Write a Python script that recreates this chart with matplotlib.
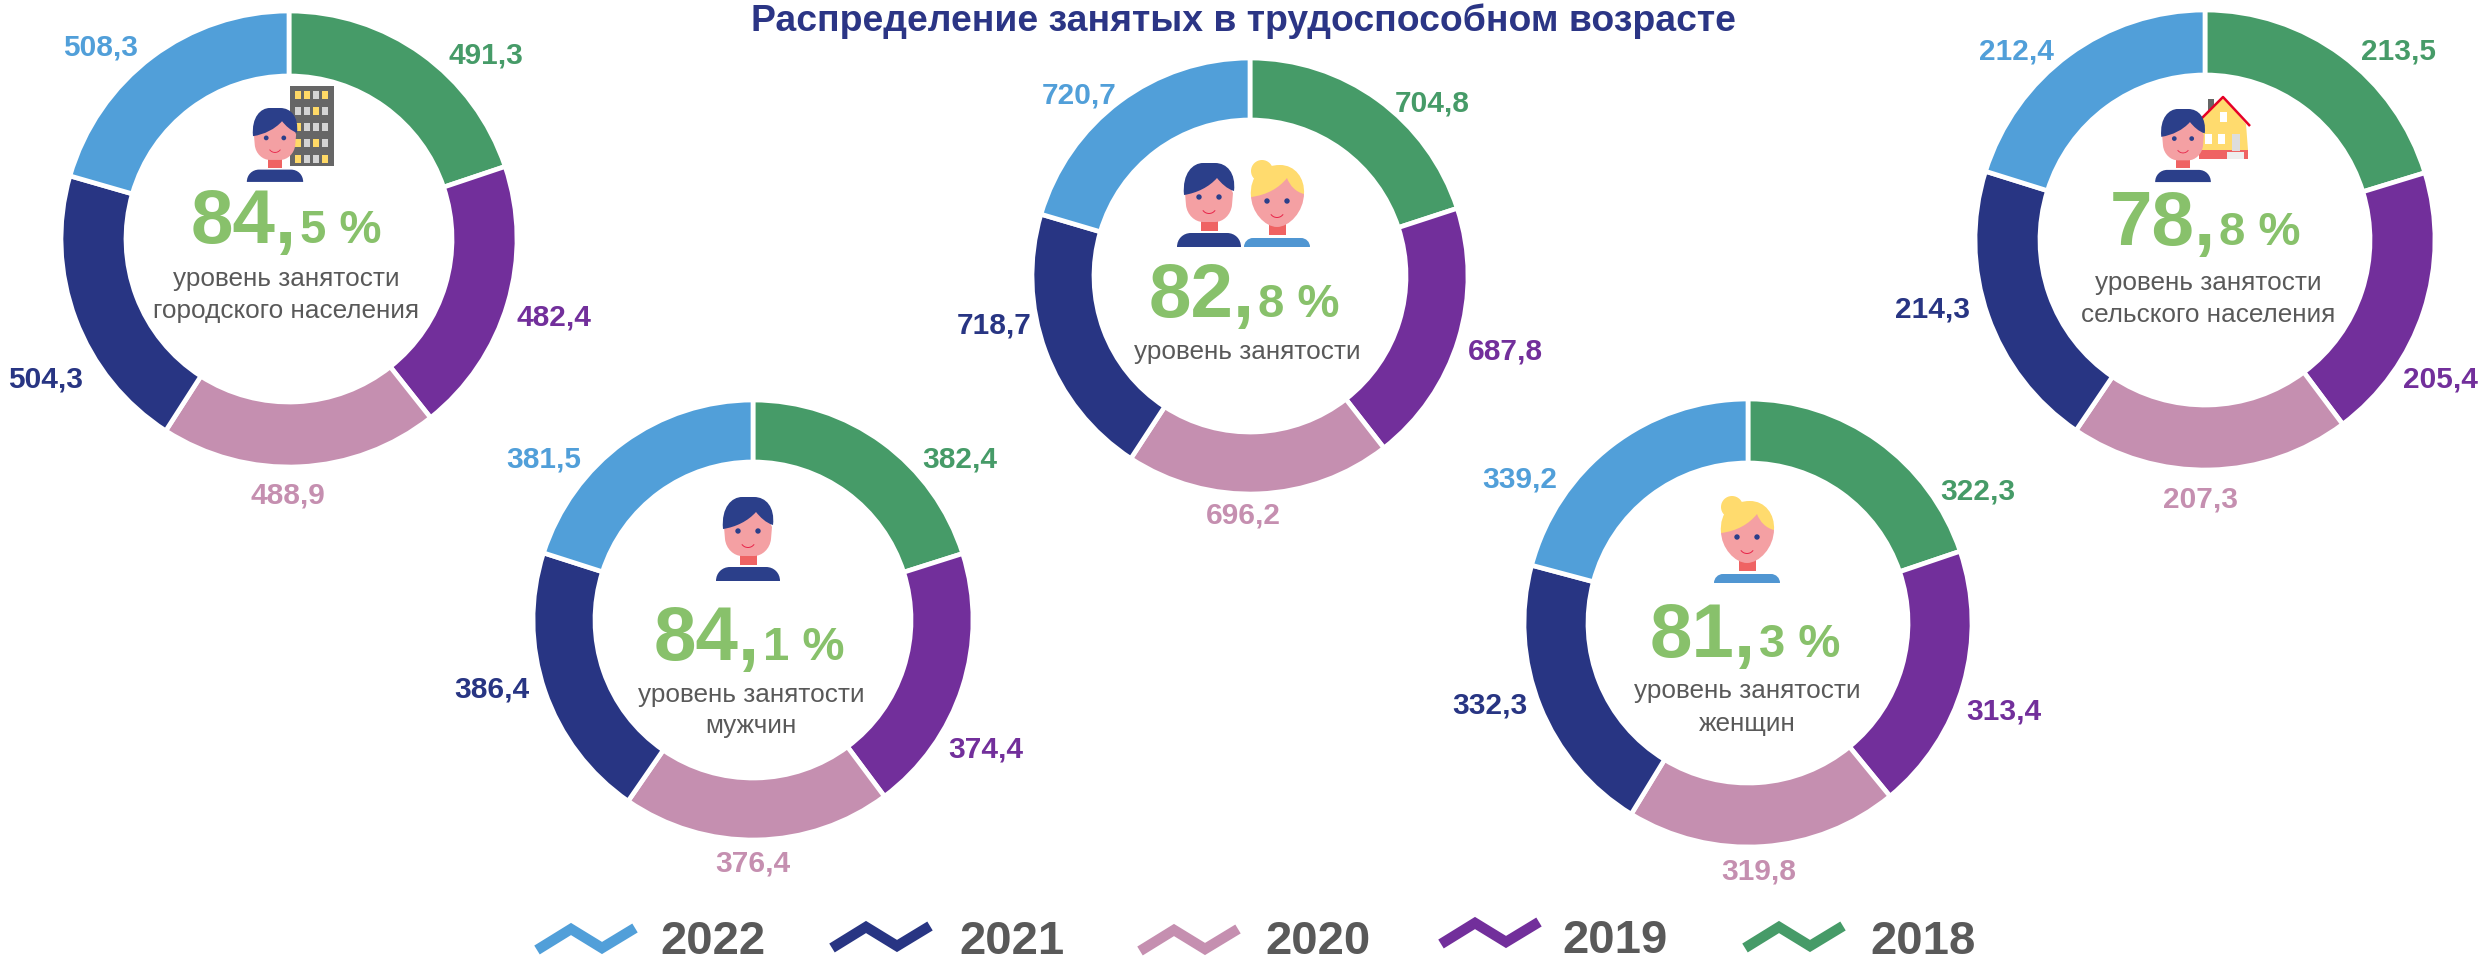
import matplotlib

matplotlib.use("Agg")
import matplotlib.pyplot as plt
from matplotlib.patches import Circle, PathPatch, Polygon, Rectangle, Wedge
from matplotlib.path import Path

plt.rcParams["font.family"] = ["Liberation Sans", "DejaVu Sans"]

# data, clockwise from 12 o'clock
years = ["2018", "2019", "2020", "2021", "2022"]
urban = [491.3, 482.4, 488.9, 504.3, 508.3]
total = [704.8, 687.8, 696.2, 718.7, 720.7]
rural = [213.5, 205.4, 207.3, 214.3, 212.4]
men = [382.4, 374.4, 376.4, 386.4, 381.5]
women = [322.3, 313.4, 319.8, 332.3, 339.2]

rate_big = ["84,", "82,", "78,", "84,", "81,"]
rate_small = ["5 %", "8 %", "8 %", "1 %", "3 %"]
captions = [
    ["уровень занятости", "городского населения"],
    ["уровень занятости"],
    ["уровень занятости", "сельского населения"],
    ["уровень занятости", "мужчин"],
    ["уровень занятости", "женщин"],
]
title = "Распределение занятых в трудоспособном возрасте"

colors = ["#469B68", "#722F9B", "#C58FB0", "#283583", "#519FD9"]
GREEN = "#88C16B"
GREY = "#595959"
NAVY = "#2B3F8A"
SKIN = "#F4A0A3"
NECK = "#EF6363"
BLOND = "#FFDB6E"

# layout in picture pixels: center x, center y, outer radius, inner radius
donuts = [
    (289, 239, 228, 163),
    (1250, 276, 218, 156),
    (2205, 240, 230, 165),
    (753, 620, 220, 158),
    (1748, 623, 224, 160),
]
rate_pos = [(297, 243), (1255, 317), (2216, 245), (760, 660), (1756, 657)]
caption_pos = [
    (286, [286, 318]),
    (1247, [359]),
    (2208, [290, 322]),
    (751, [702, 733]),
    (1747, [698, 731]),
]
label_pos = [
    [(486, 56), (554, 318), (288, 496), (46, 380), (101, 48)],
    [(1432, 103), (1505, 352), (1243, 516), (994, 325), (1079, 95)],
    [(2398, 51), (2440, 380), (2201, 499), (1933, 309), (2016, 52)],
    [(960, 459), (986, 750), (753, 863), (492, 690), (544, 459)],
    [(1978, 491), (2004, 712), (1759, 872), (1490, 706), (1520, 480)],
]
legend_left = [535, 830, 1138, 1439, 1743]
legend_top = [923, 921, 924, 917, 921]
legend_text_x = [660, 959, 1265, 1562, 1870]
legend_text_y = [954, 954, 954, 953, 954]
zigzag = [(2, 27), (36, 6), (67, 25), (100, 5)]

MAN_HAIR = "M -25 32 C -27 10 -16 0 -6 0 L 6 0 C 18 0 27 10 25 28 C 18 26 12 20 8 15 C 0 24 -12 30 -25 32 Z"
MAN_FACE = "M -24 30 L -23 42 C -22 52 -14 59 -6 59 L 6 59 C 14 59 22 52 23 42 L 24 30 L 15 10 L -15 10 Z"
MAN_BODY = "M -32 84 C -32 76 -26 70 -18 70 L 18 70 C 26 70 32 76 32 84 Z"
WOMAN_HAIR = "M -26 37 C -28 15 -14 5 3 5 C 18 5 28 18 27 34 C 19 32 13 26 10 18 C 2 28 -10 35 -26 37 Z"
WOMAN_FACE = "M -26 35 C -26 52 -12 67 0 67 C 12 67 27 52 27 33 L 12 15 L -12 15 Z"
WOMAN_BODY = "M -33 87 C -33 82 -29 78 -24 78 L 24 78 C 29 78 33 82 33 87 Z"


def svg_path(spec, cx, top, s):
    # tiny parser for the icon outlines above
    codes_map = {"M": (Path.MOVETO, 1), "L": (Path.LINETO, 1), "C": (Path.CURVE4, 3)}
    tokens = spec.split()
    verts = []
    codes = []
    i = 0
    while i < len(tokens):
        cmd = tokens[i]
        i += 1
        if cmd == "Z":
            verts.append(verts[0])
            codes.append(Path.CLOSEPOLY)
            continue
        code, n = codes_map[cmd]
        for _ in range(n):
            verts.append(
                (cx + float(tokens[i]) * s, top + float(tokens[i + 1]) * s)
            )
            codes.append(code)
            i += 2
    return Path(verts, codes)


def add_shape(ax, spec, cx, top, s, color, zorder):
    ax.add_patch(
        PathPatch(svg_path(spec, cx, top, s), color=color, lw=0, zorder=zorder)
    )


def draw_person(ax, cx, top, s, hair, face, body, hair_color, body_color, neck, eye_y, smile_y):
    ax.add_patch(
        Rectangle(
            (cx - 8.5 * s, top + neck[0] * s),
            17 * s,
            (neck[1] - neck[0]) * s,
            color=NECK,
            lw=0,
            zorder=4,
        )
    )
    add_shape(ax, face, cx, top, s, SKIN, 5)
    add_shape(ax, hair, cx, top, s, hair_color, 6)
    add_shape(ax, body, cx, top, s, body_color, 4)
    for dx in (-10, 10):
        ax.add_patch(
            Circle((cx + dx * s, top + eye_y * s), 2.7 * s, color=NAVY, lw=0, zorder=7)
        )
    ax.add_patch(
        Wedge(
            (cx, top + smile_y * s),
            8 * s,
            35,
            145,
            width=1.0 * s,
            color="#E8274B",
            lw=0,
            zorder=7,
        )
    )


def draw_man(ax, cx, top, s):
    draw_person(ax, cx, top, s, MAN_HAIR, MAN_FACE, MAN_BODY, NAVY, NAVY, (57, 68), 34, 43)


def draw_woman(ax, cx, top, s):
    draw_person(
        ax, cx, top, s, WOMAN_HAIR, WOMAN_FACE, WOMAN_BODY, BLOND, "#5096D2", (64, 75), 41, 50
    )
    ax.add_patch(Circle((cx - 15 * s, top + 11 * s), 11 * s, color=BLOND, lw=0, zorder=6))


def draw_building(ax):
    ax.add_patch(Rectangle((290, 86), 44, 80, color="#666666", lw=0, zorder=2))
    rows = ["YYGY", "GGYG", "YGGG", "YGYG", "YGGY"]
    for r, row in enumerate(rows):
        for c, ch in enumerate(row):
            color = "#FFD966" if ch == "Y" else "#D4D4D4"
            ax.add_patch(
                Rectangle(
                    (295 + c * 9, 91 + r * 16), 6, 8, color=color, lw=0, zorder=3
                )
            )


def draw_house(ax):
    ax.add_patch(Rectangle((2208, 99), 6, 20, color="#666666", lw=0, zorder=2))
    ax.add_patch(
        Polygon(
            [(2199, 150), (2201, 118), (2223, 97), (2246, 124), (2248, 150)],
            closed=True,
            color=BLOND,
            lw=0,
            zorder=2,
        )
    )
    ax.add_patch(Rectangle((2199, 150), 49, 9, color=NECK, lw=0, zorder=3))
    ax.plot(
        [2198, 2223, 2250],
        [122, 97, 126],
        color="#E60026",
        lw=1.8,
        solid_capstyle="butt",
        zorder=3,
    )
    for x, y in [(2220, 112), (2205, 134), (2218, 134)]:
        ax.add_patch(Rectangle((x, y), 7, 10, color="white", lw=0, zorder=3))
    ax.add_patch(Rectangle((2232, 134), 8, 17, color="#DDDDDD", lw=0, zorder=4))
    ax.add_patch(Rectangle((2227, 152), 17, 7, color="#EEEEEE", lw=0, zorder=4))


def main():
    fig = plt.figure(figsize=(24.81, 9.6), dpi=100)
    ax = fig.add_axes([0, 0, 1, 1])

    groups = [urban, total, rural, men, women]
    for i, values in enumerate(groups):
        cx, cy, r_out, r_in = donuts[i]
        # y axis runs downward, so counterclock here reads clockwise on the picture
        ax.pie(
            values,
            colors=colors,
            center=(cx, cy),
            radius=r_out,
            startangle=-90,
            counterclock=True,
            frame=True,
            wedgeprops={
                "width": r_out - r_in,
                "edgecolor": "white",
                "linewidth": 3.4,
            },
        )
        for value, (x, y), color in zip(values, label_pos[i], colors):
            ax.text(
                x,
                y,
                f"{value:.1f}".replace(".", ","),
                color=color,
                fontsize=21.5,
                fontweight="bold",
                ha="center",
                va="center",
            )
        x, y = rate_pos[i]
        ax.text(
            x, y, rate_big[i], color=GREEN, fontsize=55, fontweight="bold",
            ha="right", va="baseline", zorder=8,
        )
        ax.text(
            x + 3, y, rate_small[i], color=GREEN, fontsize=34, fontweight="bold",
            ha="left", va="baseline", zorder=8,
        )
        cap_x, cap_ys = caption_pos[i]
        for line, y in zip(captions[i], cap_ys):
            ax.text(
                cap_x, y, line, color=GREY, fontsize=18.8, ha="center",
                va="baseline", zorder=8,
            )

    draw_building(ax)
    draw_man(ax, 275, 108, 0.88)
    draw_man(ax, 1209, 163, 1.0)
    draw_woman(ax, 1277, 160, 1.0)
    draw_house(ax)
    draw_man(ax, 2183, 109, 0.87)
    draw_man(ax, 748, 497, 1.0)
    draw_woman(ax, 1747, 496, 1.0)

    ax.text(
        1243, 21, title, color="#2B3585", fontsize=26.9, fontweight="bold",
        ha="center", va="center",
    )

    for i, year in enumerate(years[::-1]):
        idx = len(years) - 1 - i
        ax.plot(
            [legend_left[i] + p[0] for p in zigzag],
            [legend_top[i] + p[1] for p in zigzag],
            color=colors[idx],
            lw=7.5,
            solid_joinstyle="miter",
            solid_capstyle="butt",
        )
        ax.text(
            legend_text_x[i], legend_text_y[i], year, color=GREY, fontsize=34,
            fontweight="bold", ha="left", va="baseline",
        )

    ax.set_xlim(0, 2481)
    ax.set_ylim(960, 0)
    ax.axis("off")
    fig.savefig("out.png", dpi=100, facecolor="white")


if __name__ == "__main__":
    main()
